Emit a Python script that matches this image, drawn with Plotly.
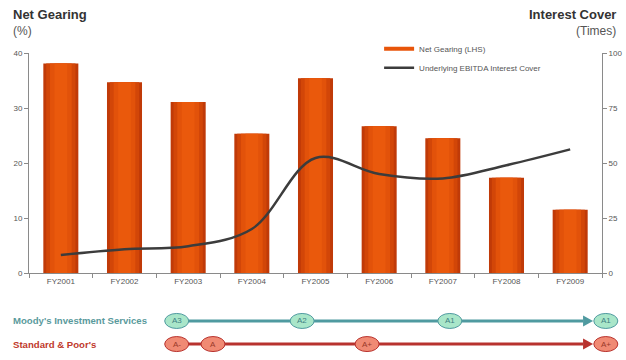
import plotly.graph_objects as go

# ---- data -------------------------------------------------------------
years = ["FY2001", "FY2002", "FY2003", "FY2004", "FY2005",
         "FY2006", "FY2007", "FY2008", "FY2009"]
net_gearing = [38.1, 34.7, 31.1, 25.3, 35.4, 26.7, 24.5, 17.3, 11.5]
interest_cover = [8.2, 10.8, 12.2, 20.0, 52.3, 45.0, 43.0, 49.0, 56.2]

moodys_ratings = ["A3", "A2", "A1", "A1"]
moodys_pos = [1.82, 3.79, 6.11, 8.56]
sp_ratings = ["A-", "A", "A+", "A+"]
sp_pos = [1.82, 2.39, 4.81, 8.56]

FONT = "Arial, Liberation Sans, sans-serif"
GREY = "#555555"
AXIS = "#8a8a8a"
PLOT_W, PLOT_H = 573, 220


def cat_to_paper(v):
    """category index -> paper x"""
    return (v + 0.5) / len(years)


fig = go.Figure()

# bars drawn as nested-width layers to give a shaded cylinder look
bar_layers = [(0.55, "#c03a08"), (0.46, "#d24608"), (0.34, "#e2520a"), (0.2, "#ea590c")]
for w, c in bar_layers:
    fig.add_trace(go.Bar(
        x=years, y=net_gearing, width=w, marker=dict(color=c, line=dict(width=0)),
        showlegend=False, name="Net Gearing (LHS)"))

# legend entry for the bars
fig.add_trace(go.Scatter(
    x=[None], y=[None], mode="lines", name="Net Gearing (LHS)",
    line=dict(color="#e8550a", width=4)))

fig.add_trace(go.Scatter(
    x=years, y=interest_cover, mode="lines", yaxis="y2",
    name="Underlying EBITDA Interest Cover",
    line=dict(color="#3c3c3c", width=2.5, shape="spline", smoothing=1.0)))

fig.update_layout(
    width=626, height=360,
    margin=dict(l=29, r=24, t=53, b=87),
    paper_bgcolor="white", plot_bgcolor="white",
    barmode="overlay",
    font=dict(family=FONT, size=8, color=GREY),
    xaxis=dict(showline=True, linecolor=AXIS, linewidth=1, ticks="outside",
               tickson="boundaries", ticklen=4, tickcolor=AXIS, automargin=False,
               tickfont=dict(size=8, color=GREY), showgrid=False,
               range=[-0.5, 8.5]),
    yaxis=dict(range=[0, 40], dtick=10, showline=True, linecolor=AXIS,
               ticks="outside", ticklen=4, tickcolor=AXIS, showgrid=False,
               zeroline=False, automargin=False, tickfont=dict(size=8, color=GREY)),
    yaxis2=dict(range=[0, 100], dtick=25, overlaying="y", side="right",
                showline=True, linecolor=AXIS, ticks="outside", ticklen=4,
                tickcolor=AXIS, showgrid=False, zeroline=False, automargin=False,
                tickfont=dict(size=8, color=GREY)),
    legend=dict(x=0.611, y=1.085, xanchor="left", yanchor="top",
                bgcolor="rgba(0,0,0,0)", font=dict(size=8, color=GREY),
                itemwidth=30, tracegroupgap=2),
    showlegend=True,
)

# axis titles
fig.add_annotation(text="<b>Net Gearing</b>", xref="paper", yref="paper",
                   x=-18 / PLOT_W, y=1 + 38 / PLOT_H, xanchor="left",
                   yanchor="middle", showarrow=False,
                   font=dict(size=13, color="#333333"))
fig.add_annotation(text="(%)", xref="paper", yref="paper",
                   x=-18 / PLOT_W, y=1 + 22 / PLOT_H, xanchor="left",
                   yanchor="middle", showarrow=False,
                   font=dict(size=12, color="#555555"))
fig.add_annotation(text="<b>Interest Cover</b>", xref="paper", yref="paper",
                   x=1 + 16 / PLOT_W, y=1 + 38 / PLOT_H, xanchor="right",
                   yanchor="middle", showarrow=False,
                   font=dict(size=13, color="#333333"))
fig.add_annotation(text="(Times)", xref="paper", yref="paper",
                   x=1 + 16 / PLOT_W, y=1 + 22 / PLOT_H, xanchor="right",
                   yanchor="middle", showarrow=False,
                   font=dict(size=12, color="#555555"))


# ---- credit rating timelines -------------------------------------------
def rating_row(label, ratings, pos, y, line_c, fill_c, text_c, label_c):
    fig.add_annotation(text="<b>" + label + "</b>", xref="paper", yref="paper",
                       x=-18 / PLOT_W, y=y, xanchor="left", yanchor="middle",
                       showarrow=False, font=dict(size=9.6, color=label_c))
    tip = cat_to_paper(8.36)
    dx = 10 / PLOT_W
    dy = 5.5 / PLOT_H
    fig.add_shape(type="line", xref="paper", yref="paper",
                  x0=cat_to_paper(pos[0]), x1=tip - dx, y0=y, y1=y,
                  line=dict(color=line_c, width=3), layer="above")
    fig.add_shape(type="path", xref="paper", yref="paper",
                  path=f"M {tip - dx} {y + dy} L {tip} {y} L {tip - dx} {y - dy} Z",
                  fillcolor=line_c, line=dict(width=0), layer="above")
    rx = 12 / PLOT_W
    ry = 7.5 / PLOT_H
    for r, p in zip(ratings, pos):
        cx = cat_to_paper(p)
        fig.add_shape(type="circle", xref="paper", yref="paper",
                      x0=cx - rx, x1=cx + rx, y0=y - ry, y1=y + ry,
                      fillcolor=fill_c, line=dict(color=line_c, width=1),
                      layer="above")
        fig.add_annotation(text=r, xref="paper", yref="paper", x=cx, y=y,
                           xanchor="center", yanchor="middle",
                           showarrow=False, font=dict(size=8, color=text_c))


rating_row("Moody's Investment Services", moodys_ratings, moodys_pos, -0.218,
           "#4f9aa0", "#a9e6c9", "#3f7f84", "#5a9a9c")
rating_row("Standard & Poor's", sp_ratings, sp_pos, -0.323,
           "#b8322e", "#f08a74", "#9a3a2a", "#c0392b")

fig.write_html("out.html")
